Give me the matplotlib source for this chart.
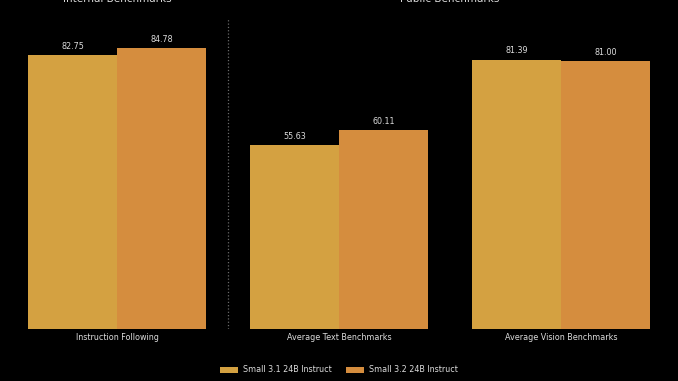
import matplotlib.pyplot as plt
import numpy as np

categories = ["Instruction Following", "Average Text Benchmarks", "Average Vision Benchmarks"]
small31 = [82.75, 55.63, 81.39]
small32 = [84.78, 60.11, 81.00]
series_names = ["Small 3.1 24B Instruct", "Small 3.2 24B Instruct"]

c31 = "#d4a141"
c32 = "#d58d3e"
txt = "#dcdcdc"

fig = plt.figure(figsize=(6.78, 3.81), dpi=100, facecolor="black")
ax = fig.add_axes([0, 52 / 381, 1, 1 - 52 / 381])
ax.set_facecolor("black")

x = np.arange(len(categories))
w = 0.4
b1 = ax.bar(x - w / 2, small31, w, color=c31, label=series_names[0])
b2 = ax.bar(x + w / 2, small32, w, color=c32, label=series_names[1])

for bars in (b1, b2):
    for r in bars:
        ax.text(r.get_x() + r.get_width() / 2, r.get_height() + 1.3, f"{r.get_height():.2f}",
                ha="center", va="bottom", color=txt, fontsize=5.8)

ax.set_xlim(-0.527, 2.527)
ax.set_ylim(0, 99.4)
ax.set_xticks(x)
ax.set_xticklabels(categories, color=txt, fontsize=5.8)
ax.tick_params(axis="x", length=0, pad=3)
ax.set_yticks([])
for s in ax.spines.values():
    s.set_visible(False)

# separator between internal and public groups
ax.plot([0.5, 0.5], [0, 94], color="#6a6a6a", linestyle=":", linewidth=0.9)

fig.text(117 / 678, 1 - 2.5 / 381, "Internal Benchmarks", ha="center", va="baseline",
         color=txt, fontsize=7.5)
fig.text(450 / 678, 1 - 2.5 / 381, "Public Benchmarks", ha="center", va="baseline",
         color=txt, fontsize=7.5)

leg = fig.legend(handles=[b1, b2], loc="center", bbox_to_anchor=(0.5, 1 - 370 / 381),
                 ncol=2, frameon=False, fontsize=5.8, handlelength=2.2, handleheight=0.7,
                 handletextpad=0.6, columnspacing=1.8)
for t in leg.get_texts():
    t.set_color(txt)

fig.savefig("out.png", dpi=100, facecolor="black")
